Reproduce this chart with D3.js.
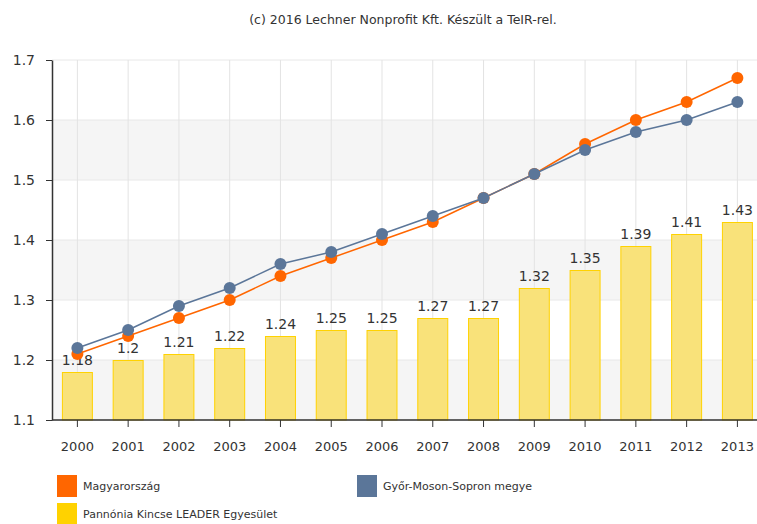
<!DOCTYPE html>
<html>
<head>
<meta charset="utf-8">
<script src="https://cdn.jsdelivr.net/npm/d3@7"></script>
<style>
  body { margin: 0; background: #fff; }
  svg { display: block; font-family: "DejaVu Sans", sans-serif; }
</style>
</head>
<body>
<svg id="chart" width="757" height="524"></svg>
<script>
// Data
const years = ["2000","2001","2002","2003","2004","2005","2006","2007","2008","2009","2010","2011","2012","2013"];
const pannonia = [1.18,1.2,1.21,1.22,1.24,1.25,1.25,1.27,1.27,1.32,1.35,1.39,1.41,1.43];
const magyarorszag = [1.21,1.24,1.27,1.30,1.34,1.37,1.40,1.43,1.47,1.51,1.56,1.60,1.63,1.67];
const gyms = [1.22,1.25,1.29,1.32,1.36,1.38,1.41,1.44,1.47,1.51,1.55,1.58,1.60,1.63];
const yTicks = [1.1,1.2,1.3,1.4,1.5,1.6,1.7];

const svg = d3.select("#chart");

const margin = { top: 60, left: 52 };
const plotH = 360;

// Scales
const x = d3.scaleBand()
  .domain(years)
  .range([margin.left, margin.left + 14 * 50.77])
  .paddingInner(0.39)
  .paddingOuter(0.195);

const y = d3.scaleLinear()
  .domain([1.1, 1.7])
  .range([margin.top + plotH, margin.top]);

const cx = d => x(d) + x.bandwidth() / 2;
const plotRight = 757;

// Alternating bands
const bands = d3.range(0, yTicks.length - 1).filter(i => i % 2 === 0);
svg.selectAll(".band")
  .data(bands)
  .join("rect")
  .attr("x", margin.left)
  .attr("y", i => y(yTicks[i + 1]))
  .attr("width", plotRight - margin.left)
  .attr("height", i => y(yTicks[i]) - y(yTicks[i + 1]))
  .attr("fill", "#f5f5f5");

// Grid lines
svg.selectAll(".hgrid")
  .data(yTicks)
  .join("line")
  .attr("x1", margin.left).attr("x2", plotRight)
  .attr("y1", d => y(d)).attr("y2", d => y(d))
  .attr("stroke", "#e8e8e8");

svg.selectAll(".vgrid")
  .data(years)
  .join("line")
  .attr("x1", d => cx(d)).attr("x2", d => cx(d))
  .attr("y1", y(1.7)).attr("y2", y(1.1))
  .attr("stroke", "#e3e3e3");

// Bars
svg.selectAll(".bar")
  .data(years)
  .join("rect")
  .attr("x", d => x(d) + 0.5)
  .attr("y", (d, i) => y(pannonia[i]) + 0.5)
  .attr("width", x.bandwidth() - 1)
  .attr("height", (d, i) => y(1.1) - y(pannonia[i]) - 0.5)
  .attr("fill", "#f9e27a")
  .attr("stroke", "#ffd200")
  .attr("stroke-width", 1);

// Bar value labels
svg.selectAll(".bar-label")
  .data(years)
  .join("text")
  .attr("x", d => cx(d))
  .attr("y", (d, i) => y(pannonia[i]) - 7)
  .attr("text-anchor", "middle")
  .attr("font-size", "14px")
  .attr("fill", "#333")
  .text((d, i) => pannonia[i]);

// Lines
const line = d3.line()
  .x(d => cx(d[0]))
  .y(d => y(d[1]));

const series = [
  { name: "Magyarország", values: magyarorszag, color: "#ff6600" },
  { name: "Győr-Moson-Sopron megye", values: gyms, color: "#5b7699" }
];

series.forEach(s => {
  const pts = years.map((yr, i) => [yr, s.values[i]]);
  svg.append("path")
    .datum(pts)
    .attr("d", line)
    .attr("fill", "none")
    .attr("stroke", s.color)
    .attr("stroke-width", 1.5);
  svg.append("g")
    .selectAll("circle")
    .data(pts)
    .join("circle")
    .attr("cx", d => cx(d[0]))
    .attr("cy", d => y(d[1]))
    .attr("r", 6)
    .attr("fill", s.color);
});

// Axes
const yAxis = d3.axisLeft(y).tickValues(yTicks).tickFormat(d3.format(".1f")).tickSize(6).tickSizeOuter(0);
const gy = svg.append("g")
  .attr("transform", `translate(${margin.left},0)`)
  .call(yAxis);
gy.select(".domain").attr("stroke", "#333").attr("stroke-width", 1.5);
gy.selectAll(".tick line").attr("stroke", "#333");
gy.selectAll("text").attr("font-size", "14px").attr("fill", "#333").attr("x", -17)
  .style("font-family", "'DejaVu Sans', sans-serif");

const xAxis = d3.axisBottom(x).tickSize(7).tickSizeOuter(0);
const gx = svg.append("g")
  .attr("transform", `translate(0,${y(1.1)})`)
  .call(xAxis);
gx.select(".domain").attr("stroke", "#333").attr("stroke-width", 1.5)
  .attr("d", `M${margin.left},0H${plotRight}`);
gx.selectAll(".tick line").attr("stroke", "#333");
gx.selectAll("text").attr("font-size", "13px").attr("fill", "#333").attr("y", 22)
  .style("font-family", "'DejaVu Sans', sans-serif");

// Title
svg.append("text")
  .attr("x", 403)
  .attr("y", 24)
  .attr("text-anchor", "middle")
  .attr("font-size", "12.5px")
  .attr("fill", "#333")
  .text("(c) 2016 Lechner Nonprofit Kft. Készült a TeIR-rel.");

// Legend
const legend = [
  { name: "Magyarország", color: "#ff6600", lx: 57, ly: 475 },
  { name: "Győr-Moson-Sopron megye", color: "#5b7699", lx: 357, ly: 475 },
  { name: "Pannónia Kincse LEADER Egyesület", color: "#ffd200", lx: 57, ly: 503 }
];
const lg = svg.append("g").selectAll("g").data(legend).join("g")
  .attr("transform", d => `translate(${d.lx},${d.ly})`);
lg.append("rect")
  .attr("width", 20).attr("height", 22)
  .attr("fill", d => d.color);
lg.append("text")
  .attr("x", 26).attr("y", 15)
  .attr("font-size", "11px")
  .attr("fill", "#333")
  .text(d => d.name);
</script>
</body>
</html>
